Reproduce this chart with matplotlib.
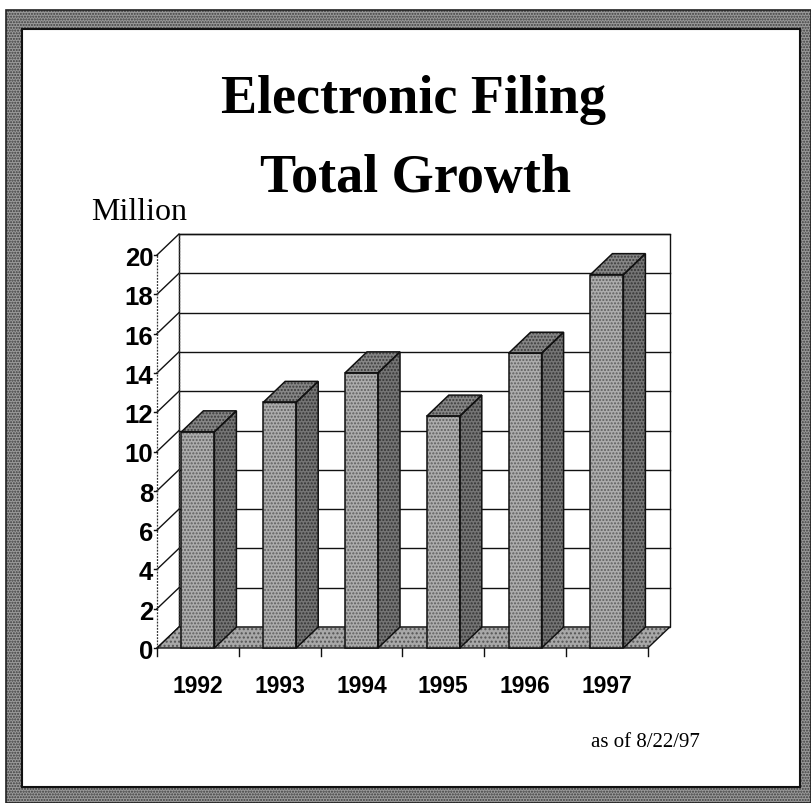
import matplotlib
matplotlib.use('Agg')
import matplotlib.pyplot as plt
from matplotlib.patches import Polygon, Rectangle

# ---------------- data ----------------
years = ['1992', '1993', '1994', '1995', '1996', '1997']
values = [11.0, 12.5, 14.0, 11.8, 15.0, 19.0]
yticks = [0, 2, 4, 6, 8, 10, 12, 14, 16, 18, 20]
title_lines = ['Electronic Filing', 'Total Growth']
unit_label = 'Million'
note = 'as of 8/22/97'

# ---------------- layout ----------------
W, H = 811, 804
fig = plt.figure(figsize=(W / 100, H / 100), dpi=100)
ax = fig.add_axes([0, 0, 1, 1])
x0_px, y0_px = 157, 649       # front-left-bottom corner of the plot box (pixels from top-left)
cat_px, unit_px = 81.8, 19.65  # pixels per category / per value unit
ax.set_xlim(-x0_px / cat_px, (W - x0_px) / cat_px)
ax.set_ylim(-(H - y0_px) / unit_px, y0_px / unit_px)
ax.axis('off')

DX = 22 / cat_px   # depth offset (x)
DY = 21 / unit_px  # depth offset (y)
BW = 33 / cat_px   # bar front width
n = len(years)
ymax = yticks[-1]

def fig_xy(px, py):
    return px / W, 1 - py / H

# ---------------- frame ----------------
plt.rcParams['hatch.linewidth'] = 1.0
ox, oy = 6, 11
ix0, iy0, ix1, iy1 = 22, 30, 800, 788
ax.add_patch(Rectangle(fig_xy(ox, H), 1 - ox / W, (H - oy) / H, transform=ax.transAxes,
                       fc='#9a9a9a', ec='#3c3c3c', hatch='......', lw=0, zorder=0))
ax.add_patch(Rectangle(fig_xy(ox, H), 1 - ox / W, (H - oy) / H, transform=ax.transAxes,
                       fill=False, ec='#222222', lw=1.2, zorder=0.5))
ax.add_patch(Rectangle(fig_xy(ix0, iy1), (ix1 - ix0) / W, (iy1 - iy0) / H, transform=ax.transAxes,
                       fc='white', ec='#111111', lw=1.5, zorder=1))

# ---------------- walls / grid ----------------
ax.add_patch(Polygon([(DX, DY), (n + DX, DY), (n + DX, ymax + DY), (DX, ymax + DY)],
                     closed=True, fc='white', ec='#111111', lw=1.0, zorder=2))
for v in yticks[1:]:
    ax.plot([DX, n + DX], [v + DY, v + DY], color='#111111', lw=1.0, zorder=3)
for v in yticks:
    ax.plot([0, DX], [v, v + DY], color='#111111', lw=1.0, zorder=3)
    ax.plot([-0.04, 0], [v, v], color='#111111', lw=1.0, zorder=3)
    ax.text(-0.045, v - 0.15, str(v), ha='right', va='center', fontsize=18.5,
            fontweight='bold', family='Liberation Sans', color='black', zorder=5)
ax.plot([0, 0], [0, ymax], color='#333333', lw=0.9, ls=(0, (1.5, 1)), zorder=3)
ax.plot([DX, DX], [DY, ymax + DY], color='#333333', lw=0.9, ls=(0, (1.5, 1)), zorder=3)

# floor
ax.add_patch(Polygon([(0, 0), (n, 0), (n + DX, DY), (DX, DY)], closed=True,
                     fc='#a8a8a8', ec='#555555', hatch='....', lw=0, zorder=3))
ax.add_patch(Polygon([(0, 0), (n, 0), (n + DX, DY), (DX, DY)], closed=True,
                     fill=False, ec='#111111', lw=1.0, zorder=3.1))
for i in range(n + 1):
    ax.plot([i, i], [0, -0.4], color='#111111', lw=1.0, zorder=3)

# ---------------- bars ----------------
def face(pts, fc, hc, z):
    ax.add_patch(Polygon(pts, closed=True, fc=fc, ec=hc, hatch='.....', lw=0, zorder=z))
    ax.add_patch(Polygon(pts, closed=True, fill=False, ec='#111111', lw=1.1, zorder=z + 0.05))

for i, (yr, v) in enumerate(zip(years, values)):
    xl = i + 0.5 - BW / 2
    xr = i + 0.5 + BW / 2
    face([(xl, 0), (xr, 0), (xr, v), (xl, v)], '#acacac', '#5e5e5e', 4)
    face([(xr, 0), (xr + DX, DY), (xr + DX, v + DY), (xr, v)], '#747474', '#333333', 4)
    face([(xl, v), (xr, v), (xr + DX, v + DY), (xl + DX, v + DY)], '#868686', '#3a3a3a', 4)
    ax.text(i + 0.5, -1.9, yr, ha='center', va='center', fontsize=16.5,
            fontweight='bold', family='Liberation Sans', color='black', zorder=5)

# ---------------- texts ----------------
fig.text(*fig_xy(414, 113), title_lines[0], ha='center', va='baseline', fontsize=39,
         fontweight='bold', family='Liberation Serif', color='black')
fig.text(*fig_xy(416, 192), title_lines[1], ha='center', va='baseline', fontsize=39,
         fontweight='bold', family='Liberation Serif', color='black')
fig.text(*fig_xy(91, 220), unit_label, ha='left', va='baseline', fontsize=23,
         family='Liberation Serif', color='black')
fig.text(*fig_xy(645, 747), note, ha='center', va='baseline', fontsize=15,
         family='Liberation Serif', color='black')

fig.savefig('out.png', dpi=100, facecolor='white')
